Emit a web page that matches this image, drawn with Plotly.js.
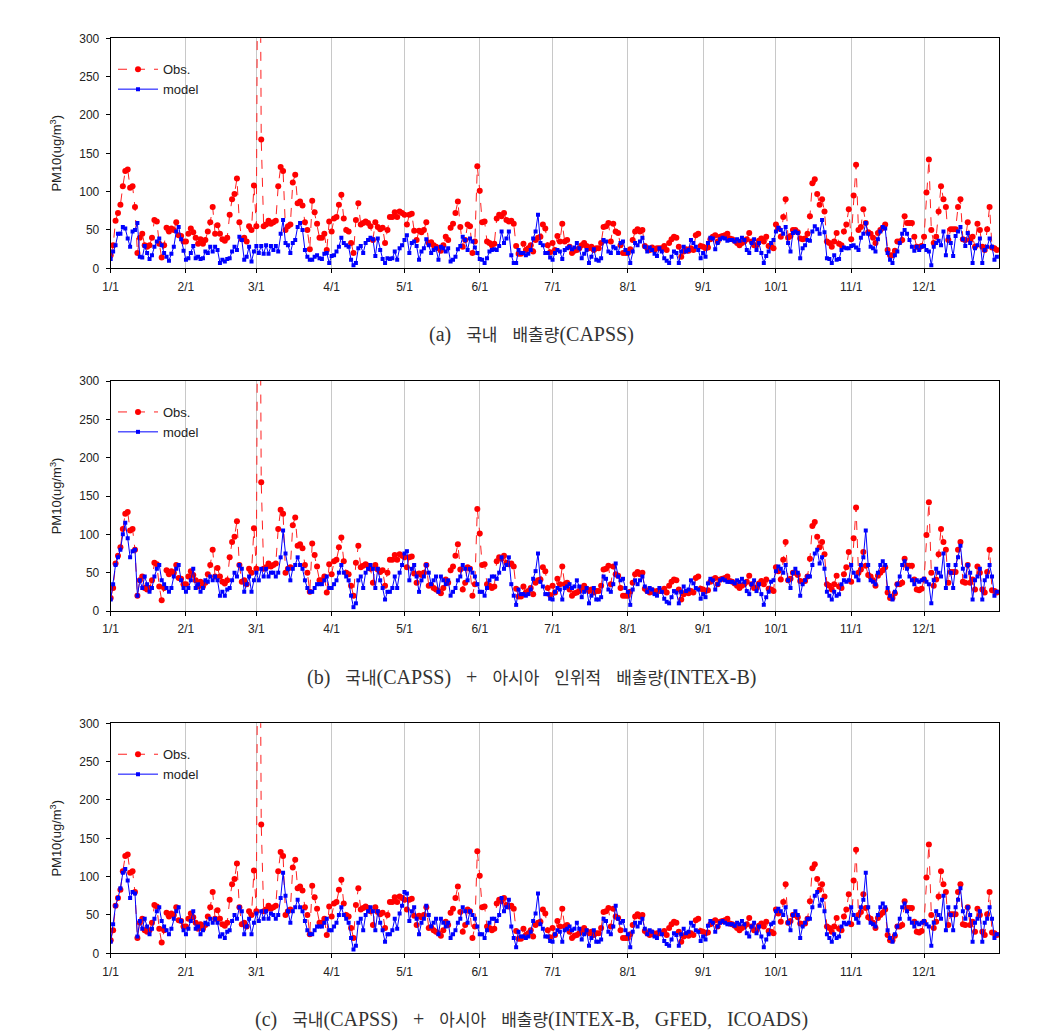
<!DOCTYPE html>
<html><head><meta charset="utf-8">
<script src="https://cdn.plot.ly/plotly-3.0.1.min.js"></script>
<style>body{margin:0;background:#fff}#chart{width:1043px;height:1033px}</style>
</head><body><div id="chart"></div>
<script>
const year = 2004;
const monthTicks = ['2004-01-01','2004-02-01','2004-03-01','2004-04-01','2004-05-01','2004-06-01','2004-07-01','2004-08-01','2004-09-01','2004-10-01','2004-11-01','2004-12-01'];
const monthLabels = ['1/1','2/1','3/1','4/1','5/1','6/1','7/1','8/1','9/1','10/1','11/1','12/1'];
const yTicks = [0,50,100,150,200,250,300];

const obs = [
17,30,62,72,83,107,127,129,105,107,80,20,40,45,30,28,30,40,63,61,32,14,30,53,48,52,50,60,43,42,
35,35,45,52,47,40,32,38,32,37,48,60,80,45,56,45,38,36,40,70,90,97,117,60,38,40,35,55,50,108,
55,800,168,55,57,62,58,60,62,107,132,127,50,55,57,112,122,85,87,82,60,50,25,
88,73,58,40,40,45,24,61,48,65,67,83,96,65,50,48,33,20,63,85,57,59,61,59,55,37,60,54,51,53,
33,50,67,67,73,67,74,72,70,57,70,71,49,37,49,47,50,60,33,34,30,28,26,23,30,41,37,53,58,72,
87,54,28,37,57,55,20,35,133,101,60,61,35,33,30,32,65,70,68,72,63,61,62,58,29,19,19,32,24,26,
30,22,37,40,41,57,52,30,21,
33,24,42,35,58,35,37,28,20,23,24,26,30,33,29,26,28,24,26,26,33,54,55,59,35,58,48,46,30,20,20,
20,25,37,48,51,48,50,29,26,24,27,24,26,26,26,29,24,33,38,41,40,28,15,22,25,23,26,24,43,45,29,
28,26,27,38,41,43,35,41,42,43,45,39,38,36,33,30,33,35,38,46,35,30,30,36,39,35,41,29,28,26,
57,52,41,67,90,40,42,50,50,47,39,38,39,45,68,111,116,97,83,90,74,35,33,28,35,46,32,30,48,57,
77,38,95,135,50,54,77,59,47,45,40,33,46,50,53,57,24,17,17,23,35,35,37,68,59,59,59,41,28,27,29,41,
99,142,50,33,41,74,107,90,80,37,51,51,51,80,90,38,37,60,37,41,28,58,50,28,24,51,80,27,26,24
];

const modelA = [
12,22,30,45,45,54,52,39,28,48,50,59,15,14,29,20,12,17,28,35,39,30,20,15,10,19,28,48,54,38,
23,11,13,20,29,13,15,12,13,22,20,28,22,28,24,7,11,9,12,13,22,28,24,41,37,11,15,28,9,22,
29,20,29,19,30,19,29,24,29,22,45,63,33,30,20,33,37,54,59,50,24,15,11,11,15,17,13,
12,19,20,7,16,17,22,28,40,33,30,28,11,4,7,26,29,20,33,37,40,38,16,39,24,12,7,13,12,13,
22,11,26,30,37,43,20,33,35,29,11,22,26,38,30,20,24,26,11,28,26,22,26,9,11,15,25,29,41,37,
24,39,35,27,20,12,11,7,13,22,24,25,24,29,48,33,39,48,17,7,7,24,20,20,17,19,24,39,48,70,
33,30,20,20,14,
11,20,24,22,12,24,26,28,25,27,33,26,13,19,24,7,15,25,11,10,13,37,35,22,20,28,26,20,33,35,
24,20,7,22,33,30,35,40,28,22,27,24,19,16,26,22,13,10,7,15,22,20,7,22,28,22,24,37,33,28,
24,13,20,15,33,40,39,25,33,38,40,39,36,37,37,35,38,36,40,37,24,20,33,38,24,33,20,7,16,22,
33,37,
48,53,50,45,54,33,22,46,48,46,13,26,30,37,36,48,55,51,45,63,47,13,12,7,17,11,12,24,27,26,26,
29,30,27,24,40,45,59,45,28,26,22,38,48,54,52,20,11,7,17,22,33,45,50,45,37,28,23,28,24,28,
29,24,22,4,28,33,36,30,48,17,41,33,16,42,48,54,38,29,46,33,7,26,30,39,7,24,28,39,28,11,15
];

const modelB = [
15,35,60,70,80,100,115,95,70,78,80,20,40,30,45,35,25,30,45,55,60,40,35,30,25,30,45,55,60,40,30,
25,30,40,55,30,35,25,30,40,38,45,40,45,40,20,25,20,28,30,40,50,45,60,55,25,35,45,25,40,
50,40,55,45,55,45,50,50,45,50,70,105,75,55,40,55,60,70,60,55,40,30,25,25,30,35,35,35,40,45,30,
30,35,40,50,60,50,45,40,20,5,10,40,45,30,50,55,60,55,30,55,40,30,15,25,25,30,45,30,50,60,
75,78,40,55,60,45,25,40,45,60,50,35,40,45,25,45,40,35,40,20,25,30,40,45,60,55,40,55,50,45,35,
25,25,20,30,40,45,45,42,50,70,55,60,70,35,20,8,28,22,22,20,22,28,42,52,75,38,32,22,22,16,
15,25,30,28,15,30,32,35,30,32,40,32,18,25,30,10,20,30,15,15,18,45,42,28,25,35,62,45,40,42,30,
25,8,28,40,35,40,45,32,25,30,28,22,20,30,25,16,12,10,18,26,24,10,25,32,26,28,40,36,30,28,16,
22,18,36,42,40,28,35,40,42,40,38,38,38,36,40,38,42,38,26,22,35,40,26,35,22,8,18,25,38,40,
52,58,55,50,60,40,30,50,55,50,20,35,40,45,45,60,75,80,62,70,55,25,20,15,25,20,22,35,40,38,40,
60,50,45,40,60,70,105,60,40,38,35,50,60,65,60,30,20,15,25,35,45,60,65,55,45,40,35,40,38,40,
42,38,35,10,40,55,50,45,75,30,60,50,30,60,70,85,55,45,60,50,15,40,45,55,15,40,45,60,45,20,25
];

const modelC = [
15,38,62,72,85,105,110,95,72,80,78,22,42,32,45,35,25,32,45,55,60,42,35,30,25,32,45,55,60,42,30,
25,32,42,55,32,35,25,30,40,38,45,40,45,40,22,25,20,28,30,42,50,45,60,55,25,35,45,25,40,
52,42,55,45,55,45,52,50,45,50,72,105,75,55,40,55,60,70,60,55,42,30,25,25,30,35,35,35,40,45,30,
30,35,40,50,60,50,45,40,20,5,10,40,45,30,50,55,60,55,30,55,40,30,15,25,25,30,45,32,52,62,
80,78,42,55,60,45,25,40,45,62,50,35,40,45,25,45,40,35,40,20,25,30,40,45,60,55,40,55,50,45,35,
25,25,20,30,40,45,45,42,50,72,55,60,70,35,20,8,28,22,22,20,22,28,42,52,78,38,32,22,22,16,
15,25,30,28,15,30,32,35,30,32,40,32,18,25,30,10,20,30,15,15,18,45,42,28,25,35,62,45,40,42,30,
25,8,28,40,35,40,45,32,25,30,28,22,20,30,25,16,12,10,18,26,24,10,25,32,26,28,40,36,30,28,16,
22,18,36,42,40,28,35,40,42,40,38,38,38,36,40,38,42,38,26,22,35,40,26,35,22,8,18,25,38,40,
55,58,55,50,60,40,30,50,55,50,20,35,40,45,45,60,75,80,62,70,55,25,20,15,25,20,22,35,40,38,40,
60,50,45,40,60,70,105,60,40,38,35,50,60,65,60,30,20,15,25,35,45,60,65,55,45,40,35,40,38,40,
42,38,35,10,40,55,50,45,75,30,60,50,30,60,70,85,55,45,60,50,15,40,45,55,15,40,45,60,45,20,25
];

const captions = [
  '(a) 국내 배출량(CAPSS)',
  '(b) 국내(CAPSS) + 아시아 인위적 배출량(INTEX-B)',
  '(c) 국내(CAPSS) + 아시아 배출량(INTEX-B, GFED, ICOADS)'
];

function dates(n){
  const out=[]; const t0=Date.UTC(year,0,1);
  for(let i=0;i<n;i++) out.push(new Date(t0+i*86400000).toISOString().slice(0,10));
  return out;
}
function styleCaption(s){
  return s.replace(/ /g,'\u00a0\u00a0\u00a0')
          .replace(/([\uAC00-\uD7A3]+)/g,'<span style="font-size:17px">$1</span>');
}

const W=1043,H=1033;
const panelTopPx=[38.3,381,723.3], panelH=230;
const xDom=[110.7/W, 999.3/W];
const fontSans='Liberation Sans, Arial, sans-serif';

const obsStyle = {mode:'lines+markers', name:'Obs.', line:{color:'#ff2020',width:1,dash:'dash'}, marker:{symbol:'circle',size:6,color:'#ff0000'}};
const modStyle = {mode:'lines+markers', name:'model', line:{color:'#0000ff',width:1}, marker:{symbol:'square',size:4,color:'#0000ff'}};

const models=[modelA, modelB, modelC];
const traces=[];
for(let p=0;p<3;p++){
  const sfx = p===0?'':String(p+1);
  const lg = p===0?'legend':'legend'+(p+1);
  traces.push(Object.assign({x:dates(obs.length), y:obs, xaxis:'x'+sfx, yaxis:'y'+sfx, legend:lg}, obsStyle));
  traces.push(Object.assign({x:dates(models[p].length), y:models[p], xaxis:'x'+sfx, yaxis:'y'+sfx, legend:lg}, modStyle));
}

const layout={
  width:W,height:H,margin:{l:0,r:0,t:0,b:0},paper_bgcolor:'#fff',plot_bgcolor:'#fff',
  font:{family:fontSans,size:12,color:'#222'},
  annotations:[], showlegend:true
};
for(let p=0;p<3;p++){
  const sfx = p===0?'':String(p+1);
  const top=panelTopPx[p], bot=top+panelH;
  layout['xaxis'+sfx]={domain:xDom, anchor:'y'+sfx, type:'date', range:['2004-01-01','2005-01-01'],
    tickvals:monthTicks, ticktext:monthLabels, ticks:'outside', ticklen:4, tickcolor:'#000',
    showgrid:true, gridcolor:'#c8c8c8', gridwidth:1, showline:true, linecolor:'#000', linewidth:1, mirror:true,
    zeroline:false, tickfont:{size:12,color:'#222'}, ticklabelstandoff:3, fixedrange:true};
  layout['yaxis'+sfx]={domain:[1-bot/H, 1-top/H], anchor:'x'+sfx, range:[0,300], tickvals:yTicks,
    ticks:'outside', ticklen:4, tickcolor:'#000', showgrid:false, showline:true, linecolor:'#000', linewidth:1, mirror:true,
    zeroline:false, tickfont:{size:12,color:'#222'}, ticklabelstandoff:4,
    title:{text:'PM10(ug/m<sup>3</sup>)', font:{size:13,color:'#222'}, standoff:14}, fixedrange:true};
  const lgKey = p===0?'legend':'legend'+(p+1);
  layout[lgKey]={x:113/W, y:1-(top+16)/H, xanchor:'left', yanchor:'top', bgcolor:'rgba(0,0,0,0)',
    font:{size:13,family:fontSans,color:'#222'}, tracegroupgap:0, itemwidth:40};
  layout.annotations.push({xref:'paper',yref:'paper',x:531/W,y:1-(bot+66)/H,xanchor:'center',yanchor:'middle',
    text:styleCaption(captions[p]), showarrow:false,
    font:{family:'Liberation Serif, Noto Sans CJK KR, serif',size:20,color:'#333'}});
}
Plotly.newPlot('chart',traces,layout,{staticPlot:true});
</script></body></html>
